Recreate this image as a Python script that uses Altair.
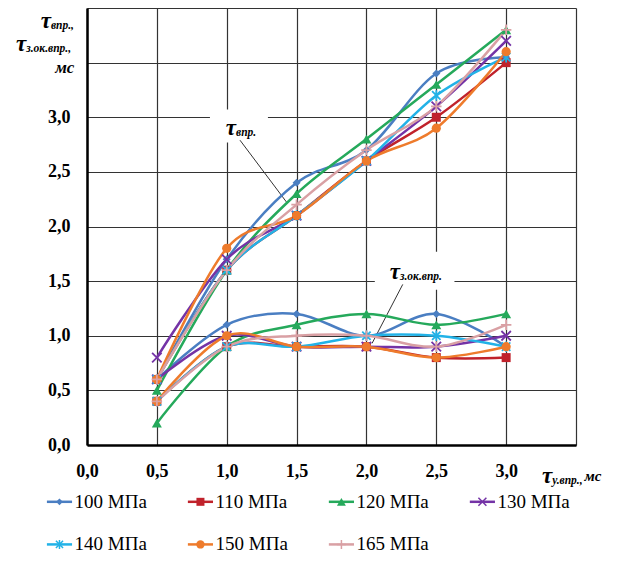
import altair as alt
import pandas as pd

# ---------------- data ----------------
x_vals = [0.5, 1.0, 1.5, 2.0, 2.5, 3.0]
series = ["100 МПа", "110 МПа", "120 МПа", "130 МПа", "140 МПа", "150 МПа", "165 МПа"]
colors = ["#4A7EC2", "#C0222B", "#25A95B", "#7433A6", "#22B2E7", "#EE7B2C", "#D9A0A4"]

# tau_vpr (upper group of curves)
upper_100 = [0.6, 1.7, 2.4, 2.7, 3.4, 3.55]
upper_110 = [0.6, 1.6, 2.1, 2.6, 3.0, 3.5]
upper_120 = [0.5, 1.6, 2.3, 2.8, 3.3, 3.8]
upper_130 = [0.8, 1.7, 2.1, 2.6, 3.1, 3.7]
upper_140 = [0.6, 1.6, 2.1, 2.6, 3.2, 3.55]
upper_150 = [0.6, 1.8, 2.1, 2.6, 2.9, 3.6]
upper_165 = [0.6, 1.6, 2.2, 2.7, 3.1, 3.8]

# tau_z.ok.vpr (lower group of curves)
lower_100 = [0.6, 1.1, 1.2, 1.0, 1.2, 0.9]
lower_110 = [0.4, 0.9, 0.9, 0.9, 0.8, 0.8]
lower_120 = [0.2, 0.9, 1.1, 1.2, 1.1, 1.2]
lower_130 = [0.6, 1.0, 0.9, 0.9, 0.9, 1.0]
lower_140 = [0.4, 0.9, 0.9, 1.0, 1.0, 0.9]
lower_150 = [0.4, 1.0, 0.9, 0.9, 0.8, 0.9]
lower_165 = [0.4, 0.9, 1.0, 1.0, 0.9, 1.1]

upper = [upper_100, upper_110, upper_120, upper_130, upper_140, upper_150, upper_165]
lower = [lower_100, lower_110, lower_120, lower_130, lower_140, lower_150, lower_165]

x_ticks = [0.0, 0.5, 1.0, 1.5, 2.0, 2.5, 3.0, 3.5]
y_ticks = [0.0, 0.5, 1.0, 1.5, 2.0, 2.5, 3.0, 3.5, 4.0]

# ---------------- marker styles ----------------
X_PATH = "M-1,-1L1,1M-1,1L1,-1"
STAR_PATH = "M-0.8,-0.8L0.8,0.8M-0.8,0.8L0.8,-0.8M0,-1L0,1"
PLUS_PATH = "M-1,0L1,0M0,-1L0,1"
markers = ["diamond", "square", "triangle-up", X_PATH, STAR_PATH, "circle", PLUS_PATH]
marker_sizes = [64, 81, 100, 90, 110, 85, 110]
legend_marker_sizes = [45, 64, 80, 64, 80, 70, 80]
marker_filled = [True, True, True, False, False, True, False]

rows = []
for i, s in enumerate(series):
    for part, vals in (("upper", upper[i]), ("lower", lower[i])):
        for xv, yv in zip(x_vals, vals):
            rows.append({"series": s, "part": part, "x": xv, "y": yv})
df = pd.DataFrame(rows)
leg_df = pd.DataFrame({"series": series, "idx": list(range(len(series)))})

SERIF = "Liberation Serif, Times New Roman, DejaVu Serif, serif"
label_expr = "datum.value > 3.01 ? '' : replace(format(datum.value, '.1f'), '.', ',')"

x_scale = alt.Scale(domain=[0, 3.5], nice=False, zero=False)
y_scale = alt.Scale(domain=[0, 4], nice=False, zero=False)
color_scale = alt.Scale(domain=series, range=colors)

x_axis = alt.Axis(values=x_ticks, labelExpr=label_expr, labelFont=SERIF, labelFontWeight="bold",
                  labelFontSize=18, labelColor="black", labelPadding=17, ticks=False,
                  domainColor="black", domainWidth=2.5, gridColor="#333333", gridWidth=1.2,
                  title=None, labelFlush=False, labelOverlap=False)
y_axis = alt.Axis(values=y_ticks, labelExpr=label_expr, labelFont=SERIF, labelFontWeight="bold",
                  labelFontSize=18, labelColor="black", labelPadding=17, ticks=False,
                  domainColor="black", domainWidth=2.5, gridColor="#333333", gridWidth=1.2,
                  title=None, labelFlush=False, labelOverlap=False)

X = alt.X("x:Q", scale=x_scale, axis=x_axis)
Y = alt.Y("y:Q", scale=y_scale, axis=y_axis)
COLOR = alt.Color("series:N", scale=color_scale, legend=None)

# white boxes behind annotation labels
box_df = pd.DataFrame({"x": [0.88, 2.06], "x2": [1.295, 2.63], "y": [3.07, 1.77], "y2": [2.77, 1.42]})
boxes = alt.Chart(box_df).mark_rect(color="white").encode(
    x=alt.X("x:Q", scale=x_scale), x2="x2:Q", y=alt.Y("y:Q", scale=y_scale), y2="y2:Q")

# leader lines
lead_df = pd.DataFrame({"x": [1.095, 2.26], "y": [2.79, 1.47], "x2": [1.43, 2.04], "y2": [2.22, 0.93]})
leaders = alt.Chart(lead_df).mark_rule(color="#333333", strokeWidth=1).encode(
    x=alt.X("x:Q", scale=x_scale), x2="x2:Q", y=alt.Y("y:Q", scale=y_scale), y2="y2:Q")

lines = alt.Chart(df).mark_line(interpolate="cardinal", strokeWidth=2.5).encode(
    x=X, y=Y, color=COLOR, detail="part:N")

point_layers = []
for i, s in enumerate(series):
    kw = dict(opacity=1, shape=markers[i], size=marker_sizes[i])
    if marker_filled[i]:
        mk = alt.Chart(df).transform_filter(alt.datum.series == s).mark_point(filled=True, **kw)
    else:
        mk = alt.Chart(df).transform_filter(alt.datum.series == s).mark_point(filled=False, strokeWidth=1.8, **kw)
    point_layers.append(mk.encode(x=X, y=Y, color=COLOR))

# ---------------- legend (4 columns x 2 rows, built from the series list) ----------------
leg_base = alt.Chart(leg_df).transform_calculate(
    col="datum.idx % 4",
    row="floor(datum.idx / 4)",
).transform_calculate(
    lx="-0.197 + datum.col * 1.009",
    ly="-0.52 - datum.row * 0.39",
).transform_calculate(
    lx1="datum.lx - 0.09",
    lx2="datum.lx + 0.09",
    tx="datum.lx + 0.108",
)
leg_lines = leg_base.mark_rule(strokeWidth=2.5).encode(
    x=alt.X("lx1:Q", scale=x_scale), x2="lx2:Q", y=alt.Y("ly:Q", scale=y_scale), color=COLOR)
leg_marks = []
for i, s in enumerate(series):
    kw = dict(opacity=1, shape=markers[i], size=legend_marker_sizes[i])
    if marker_filled[i]:
        m = leg_base.transform_filter(alt.datum.series == s).mark_point(filled=True, **kw)
    else:
        m = leg_base.transform_filter(alt.datum.series == s).mark_point(filled=False, strokeWidth=1.5, **kw)
    leg_marks.append(m.encode(x=alt.X("lx:Q", scale=x_scale), y=alt.Y("ly:Q", scale=y_scale), color=COLOR))
leg_text = leg_base.mark_text(align="left", baseline="middle", font=SERIF, fontSize=19, color="black").encode(
    x=alt.X("tx:Q", scale=x_scale), y=alt.Y("ly:Q", scale=y_scale), text="series:N")

# ---------------- text annotations (tau + subscript) ----------------
tau_df = pd.DataFrame({"x": [-0.258, -0.435, 1.067, 2.24, 3.33],
                       "y": [3.88, 3.67, 2.90, 1.58, -0.28],
                       "t": ["τ", "τ", "τ", "τ", "τ"]})
sub_df = pd.DataFrame({"x": [-0.258, -0.435, 1.067, 2.24, 3.33],
                       "y": [3.88, 3.67, 2.90, 1.58, -0.28],
                       "t": ["впр.,", "з.ок.впр.,", "впр.", "з.ок.впр.", "у.впр.,"]})
ms_r_df = pd.DataFrame({"x": [-0.09], "y": [3.45], "t": ["мс"]})
ms_l_df = pd.DataFrame({"x": [3.56], "y": [-0.28], "t": ["мс"]})

def txt(d, align, size, dy=0):
    return alt.Chart(d).mark_text(align=align, baseline="middle", font=SERIF, fontStyle="italic",
                                  fontWeight="bold", fontSize=size, dy=dy, color="black", clip=False).encode(
        x=alt.X("x:Q", scale=x_scale), y=alt.Y("y:Q", scale=y_scale), text="t:N")

taus = txt(tau_df, "right", 23)
subs = txt(sub_df, "left", 11.5, dy=5)
ms_r = txt(ms_r_df, "right", 17)
ms_l = txt(ms_l_df, "left", 15)

chart = alt.layer(boxes, leaders, lines, *point_layers, leg_lines, *leg_marks, leg_text,
                  taus, subs, ms_r, ms_l).properties(
    width=489, height=437,
    autosize=alt.AutoSizeParams(type="none"),
    padding={"left": 79, "top": 0, "right": 38, "bottom": 111},
    background="white",
).configure_view(stroke=None)

chart.save("out.html", embed_options={"renderer": "svg", "actions": False})
